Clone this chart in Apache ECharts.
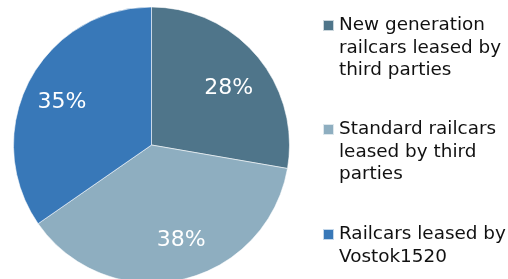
<!DOCTYPE html>
<html>
<head>
<meta charset="utf-8">
<script src="https://cdn.jsdelivr.net/npm/echarts@6/dist/echarts.min.js"></script>
<style>
  html, body { margin: 0; padding: 0; background: #fff; }
  #chart { width: 508px; height: 279px; }
</style>
</head>
<body>
<div id="chart"></div>
<script>
const categories = [
  'New generation railcars leased by third parties',
  'Standard railcars leased by third parties',
  'Railcars leased by Vostok1520'
]
const legendText = [
  'New generation\nrailcars leased by\nthird parties',
  'Standard railcars\nleased by third\nparties',
  'Railcars leased by\nVostok1520'
]
const shares = [28, 38, 35]
const colors = ['#4f758a', '#8eaec0', '#3878b8']

const chart = echarts.init(document.getElementById('chart'))

const lineH = 22.5
// bottom offsets of each legend block (px from bottom of canvas)
const legendBottoms = [197.25, 93.25, 10.75]
// small nudges so the percent labels sit where excel put them
const labelNudge = [[0, 8], [8, -3], [0, 4]]

const pieData = categories.map((name, i) => ({
  name,
  value: shares[i],
  itemStyle: { color: colors[i] }
}))

const legends = categories.map((name, i) => {
  const lines = legendText[i].split('\n').length
  // blank lines on top so the icon lines up with the first text line
  const txt = ' \n'.repeat(lines - 1) + legendText[i]
  return {
    data: [name],
    orient: 'vertical',
    left: 322,
    bottom: legendBottoms[i],
    padding: 0,
    icon: 'rect',
    itemWidth: 11,
    itemHeight: 11,
    selectedMode: false,
    formatter: () => txt,
    textStyle: {
      fontFamily: 'DejaVu Sans',
      fontSize: 18.4,
      color: '#111',
      lineHeight: lineH
    }
  }
})

chart.setOption({
  animation: false,
  legend: legends,
  series: [
    {
      name: 'share',
      type: 'pie',
      center: [151.5, 145],
      radius: [0, 138],
      startAngle: 90,
      silent: true,
      label: { show: false },
      labelLine: { show: false },
      itemStyle: { borderColor: 'rgba(255,255,255,0.7)', borderWidth: 0.8 },
      data: pieData
    },
    {
      // transparent ring used only to place the percentage labels
      name: 'labels',
      type: 'pie',
      center: [151.5, 145],
      radius: [58, 138],
      startAngle: 90,
      silent: true,
      itemStyle: { color: 'rgba(0,0,0,0)' },
      label: {
        show: true,
        position: 'inside',
        formatter: p => p.value + '%',
        fontFamily: 'DejaVu Sans',
        fontSize: 22,
        color: '#fff'
      },
      labelLine: { show: false },
      data: categories.map((name, i) => ({
        name,
        value: shares[i],
        label: { offset: labelNudge[i] }
      }))
    }
  ]
})
</script>
</body>
</html>
